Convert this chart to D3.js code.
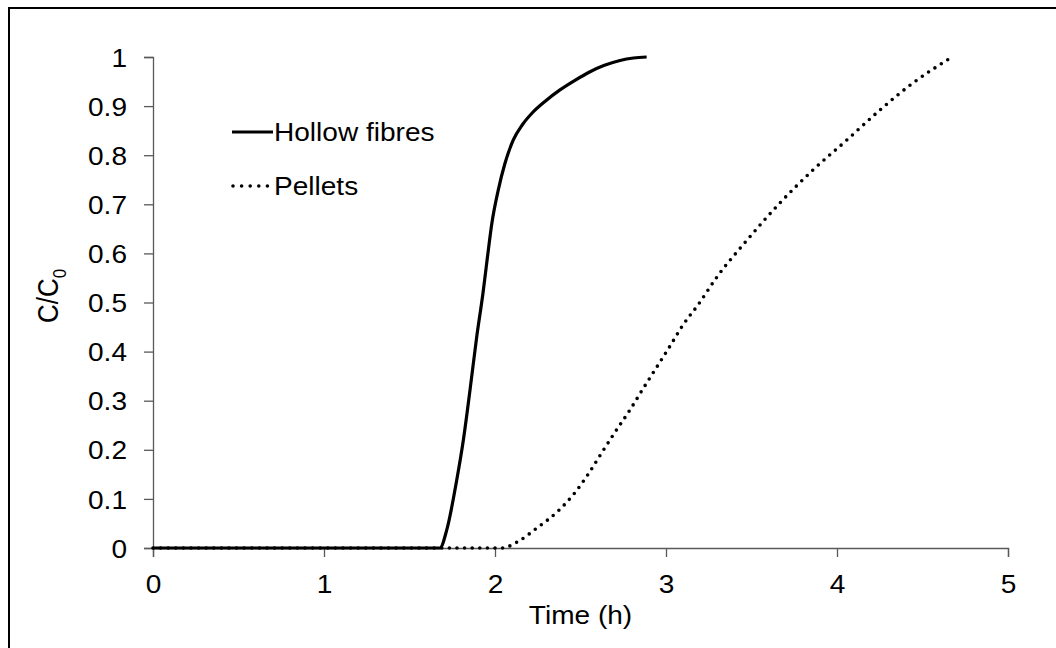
<!DOCTYPE html>
<html>
<head>
<meta charset="utf-8">
<script src="https://cdn.jsdelivr.net/npm/d3@7"></script>
<style>
body { margin: 0; background: #fff; }
text { font-family: "Liberation Sans", Arial, sans-serif; fill: #000; }
</style>
</head>
<body>
<div id="chart"></div>
<script>
// hollow fibres breakthrough curve
var fibreTime = [0, 1.678, 1.718, 1.776, 1.815, 1.854, 1.893, 1.93, 1.955, 1.981, 2.019, 2.058, 2.107, 2.16, 2.22, 2.29, 2.38, 2.47, 2.556, 2.64, 2.731, 2.81, 2.887]
var fibreConc = [0, 0, 0.037, 0.138, 0.22, 0.322, 0.43, 0.52, 0.59, 0.66, 0.729, 0.783, 0.831, 0.862, 0.887, 0.909, 0.933, 0.953, 0.97, 0.983, 0.993, 0.998, 1.0]

// pellets breakthrough curve
var pelletTime = [0, 2.041, 2.129, 2.246, 2.368, 2.468, 2.544, 2.626, 2.702, 2.789, 2.865, 2.947, 3.023, 3.099, 3.187, 3.298, 3.474, 3.667, 3.86, 4.058, 4.251, 4.444, 4.655]
var pelletConc = [0, 0, 0.012, 0.041, 0.075, 0.113, 0.15, 0.195, 0.236, 0.281, 0.324, 0.369, 0.411, 0.454, 0.495, 0.552, 0.627, 0.703, 0.77, 0.831, 0.892, 0.947, 0.996]

var xTicks = [0, 1, 2, 3, 4, 5]
var yTicks = [0, 0.1, 0.2, 0.3, 0.4, 0.5, 0.6, 0.7, 0.8, 0.9, 1]
var seriesNames = ["Hollow fibres", "Pellets"]

var W = 1056, H = 648
var sx = 153, sy = 57, pw = 855, ph = 491
var fs = 25.5, stretch = "scale(1.1,1)"

var svg = d3.select("#chart").append("svg")
    .attr("width", W)
    .attr("height", H)

// outer frame (only left and top edges show in the picture)
svg.append("rect")
    .attr("x", 9).attr("y", 8)
    .attr("width", W + 20).attr("height", H + 20)
    .attr("fill", "none")
    .attr("stroke", "#000")
    .attr("stroke-width", 2)

var x = d3.scaleLinear().domain([0, 5]).range([sx, sx + pw])
var y = d3.scaleLinear().domain([0, 1]).range([sy + ph, sy])

var xAxis = svg.append("g")
    .attr("transform", "translate(0," + (sy + ph) + ")")
    .call(d3.axisBottom(x).tickValues(xTicks).tickSize(9).tickFormat(d3.format("d")))

var yAxis = svg.append("g")
    .attr("transform", "translate(" + sx + ",0)")
    .call(d3.axisLeft(y).tickValues(yTicks).tickSize(9).tickFormat(function(d){ return String(+d.toFixed(1)) }))

svg.selectAll(".domain").attr("stroke", "#595959").attr("stroke-width", 1.3)
svg.selectAll(".tick line").attr("stroke", "#595959").attr("stroke-width", 1.3)
svg.selectAll(".tick text")
    .style("font-size", fs + "px")
    .style("font-family", "Liberation Sans, Arial, sans-serif")
    .attr("fill", "#000")
    .attr("transform", stretch)
xAxis.selectAll(".tick text").attr("y", 45).attr("dy", 0)
yAxis.selectAll(".tick text").attr("x", -26 / 1.1).attr("dy", "0.36em")

// axis titles
svg.append("text")
    .attr("transform", "translate(" + (sx + pw / 2) + ",624) " + stretch)
    .attr("text-anchor", "middle")
    .style("font-size", fs + "px")
    .text("Time (h)")

var yt = svg.append("text")
    .attr("transform", "translate(58,296) rotate(-90) scale(1,1.1)")
    .attr("text-anchor", "middle")
    .style("font-size", "26px")
yt.append("tspan").text("C/C")
yt.append("tspan").attr("dy", 7).style("font-size", "17px").text("0")

var line = d3.line()
    .x(function(d){ return x(d[0]) })
    .y(function(d){ return y(d[1]) })
    .curve(d3.curveMonotoneX)

var pellets = pelletTime.map(function(t, i){ return [t, pelletConc[i]] })
var fibres = fibreTime.map(function(t, i){ return [t, fibreConc[i]] })

svg.append("path")
    .datum(pellets)
    .attr("d", line)
    .attr("fill", "none")
    .attr("stroke", "#000")
    .attr("stroke-width", 3.6)
    .attr("stroke-linecap", "round")
    .attr("stroke-dasharray", "0,7.6")

svg.append("path")
    .datum(fibres)
    .attr("d", line)
    .attr("fill", "none")
    .attr("stroke", "#000")
    .attr("stroke-width", 3.2)

// legend
var lg = svg.selectAll(".legend").data(seriesNames)
    .enter().append("g")
    .attr("class", "legend")
    .attr("transform", function(d, i){ return "translate(232," + (132 + 54 * i) + ")" })

lg.append("line")
    .attr("x1", function(d, i){ return i == 0 ? 0 : 1 })
    .attr("x2", 41)
    .attr("stroke", "#000")
    .attr("stroke-width", function(d, i){ return i == 0 ? 3.2 : 3.6 })
    .attr("stroke-linecap", function(d, i){ return i == 0 ? "butt" : "round" })
    .attr("stroke-dasharray", function(d, i){ return i == 0 ? null : "0,8.6" })

lg.append("text")
    .attr("transform", "translate(42,8.5) " + stretch)
    .style("font-size", fs + "px")
    .text(function(d){ return d })
</script>
</body>
</html>
